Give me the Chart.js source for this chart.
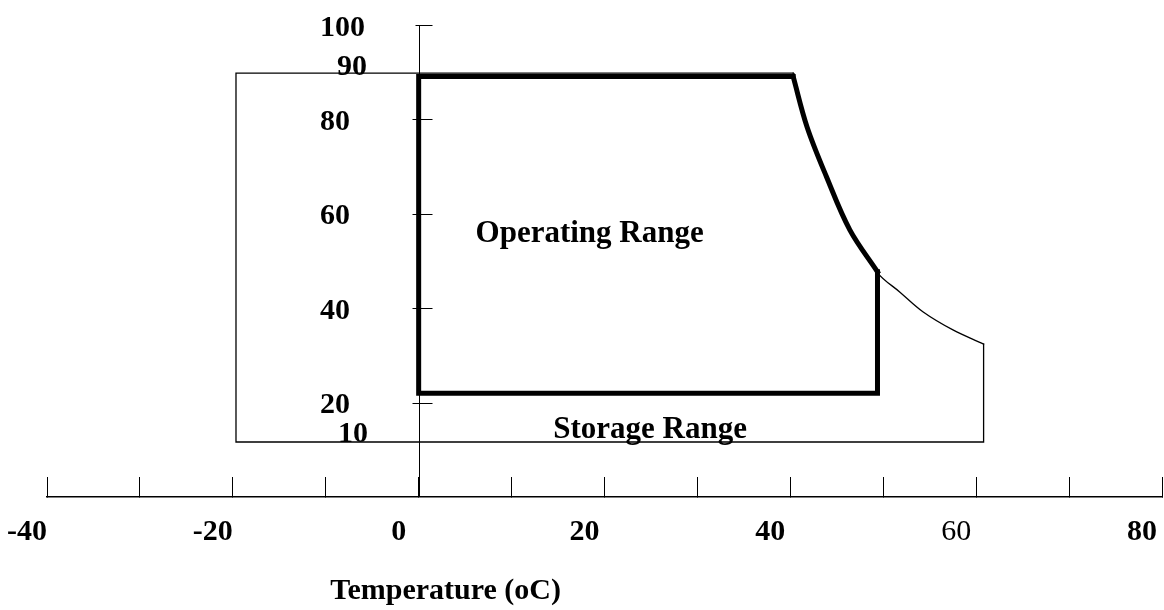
<!DOCTYPE html>
<html>
<head>
<meta charset="utf-8">
<script src="https://cdn.jsdelivr.net/npm/chart.js@4"></script>
<style>
  html, body { margin: 0; padding: 0; background: #fff; }
</style>
</head>
<body>
<canvas id="rangeChart" width="1164" height="610"></canvas>
<script>
// temperature (oC) on x, relative humidity (%) on y
const xTicks = [-40, -30, -20, -10, 0, 10, 20, 30, 40, 50, 60, 70, 80];
const xTickLabels = ['-40', '', '-20', '', '0', '', '20', '', '40', '', '60', '', '80'];
const yTicks = [20, 40, 60, 80, 100];
const yLabelValues = [100, 90, 80, 60, 40, 20, 10];

// storage range: straight edges, then the humidity limit curve
const storageEdgeTemp = [40.3, -19.66, -19.66, 60.8, 60.8];
const storageEdgeHumidity = [89.8, 89.8, 11.65, 11.65, 32.4];
const storageCurveTemp = [40.3, 41.8, 43.9, 46.4, 49.38, 51.8, 54.3, 57.5, 60.8];
const storageCurveHumidity = [89.8, 78.4, 67.8, 56.6, 47.5, 43.4, 39.2, 35.4, 32.4];

// operating range
const operatingEdgeTemp = [40.3, 0, 0, 49.38, 49.38];
const operatingEdgeHumidity = [89.1, 89.1, 22, 22, 47.7];
const operatingCurveTemp = [40.3, 41.8, 43.9, 46.4, 49.38];
const operatingCurveHumidity = [89.1, 78.4, 67.8, 56.6, 47.7];

const yAxisAt = 0;

function toPoints(xs, ys) {
    return xs.map((v, i) => ({ x: v, y: ys[i] }));
}

const serif = 'Liberation Serif, Times New Roman, serif';

function outline(label, xs, ys, width, curved) {
    return {
        label: label,
        data: toPoints(xs, ys),
        showLine: true,
        borderColor: '#000',
        borderWidth: width,
        borderJoinStyle: curved ? 'round' : 'miter',
        borderCapStyle: 'square',
        tension: curved ? 0.35 : 0,
        pointRadius: 0,
        fill: false
    };
}

// y axis sits inside the plot at 0 oC, plus the text inside the plot
const rangeDecor = {
    id: 'rangeDecor',
    afterDatasetsDraw(chart) {
        const { ctx, scales: { x, y }, chartArea } = chart;
        const ax = Math.round(x.getPixelForValue(yAxisAt)) + 0.5;
        ctx.save();
        ctx.strokeStyle = '#000';
        ctx.lineWidth = 1;
        ctx.beginPath();
        ctx.moveTo(ax, y.getPixelForValue(100));
        ctx.lineTo(ax, y.getPixelForValue(0));
        yTicks.forEach(v => {
            const py = Math.round(y.getPixelForValue(v)) + 0.5;
            ctx.moveTo(ax - (v === 100 ? 4 : 7), py);
            ctx.lineTo(ax + 13, py);
        });
        ctx.stroke();

        ctx.fillStyle = '#000';
        ctx.font = 'bold 30px ' + serif;
        ctx.textAlign = 'left';
        ctx.textBaseline = 'alphabetic';
        yLabelValues.forEach(v => {
            let dx = 0, dy = 10.5;
            if (v === 90) { dx = 17; dy = 3; }
            if (v === 10) { dx = 18; dy = -8; }
            ctx.fillText(String(v), 320 + dx, y.getPixelForValue(v) + dy);
        });

        ctx.textAlign = 'center';
        ctx.font = 'bold 31px ' + serif;
        ctx.fillText('Operating Range', x.getPixelForValue(18.4), y.getPixelForValue(54.0));
        ctx.fillText('Storage Range', x.getPixelForValue(24.9), y.getPixelForValue(12.5));

        ctx.font = 'bold 30px ' + serif;
        ctx.fillText('Temperature (oC)', x.getPixelForValue(2.9), chartArea.bottom + 102);
        ctx.restore();
    }
};

const ctx = document.getElementById('rangeChart').getContext('2d');
const rangeChart = new Chart(ctx, {
    type: 'scatter',
    data: {
        datasets: [
            outline('Storage Range', storageEdgeTemp, storageEdgeHumidity, 1.3, false),
            outline('Storage Range', storageCurveTemp, storageCurveHumidity, 1.3, true),
            outline('Operating Range', operatingEdgeTemp, operatingEdgeHumidity, 5, false),
            outline('Operating Range', operatingCurveTemp, operatingCurveHumidity, 5, true)
        ]
    },
    options: {
        responsive: false,
        animation: false,
        layout: { padding: { top: 25, left: 47, right: 2, bottom: 0 } },
        plugins: {
            legend: { display: false },
            tooltip: { enabled: false }
        },
        scales: {
            x: {
                type: 'linear',
                min: -40,
                max: 80,
                afterBuildTicks: scale => { scale.ticks = xTicks.map(v => ({ value: v })); },
                afterFit: scale => {
                    scale.paddingLeft = 0;
                    scale.paddingRight = 0;
                    scale.height = 113;
                },
                grid: {
                    drawOnChartArea: false,
                    drawTicks: true,
                    tickLength: -20,
                    color: '#000',
                    lineWidth: 1
                },
                border: { display: true, color: '#000', width: 1.5 },
                ticks: {
                    autoSkip: false,
                    maxRotation: 0,
                    minRotation: 0,
                    labelOffset: -20,
                    padding: 37,
                    color: '#000',
                    font: c => ({ family: serif, size: 30, weight: (c.tick && c.tick.value === 60) ? 'normal' : 'bold' }),
                    callback: (v, i) => xTickLabels[i]
                }
            },
            y: {
                type: 'linear',
                min: 0,
                max: 100,
                display: false
            }
        }
    },
    plugins: [rangeDecor]
});
</script>
</body>
</html>
